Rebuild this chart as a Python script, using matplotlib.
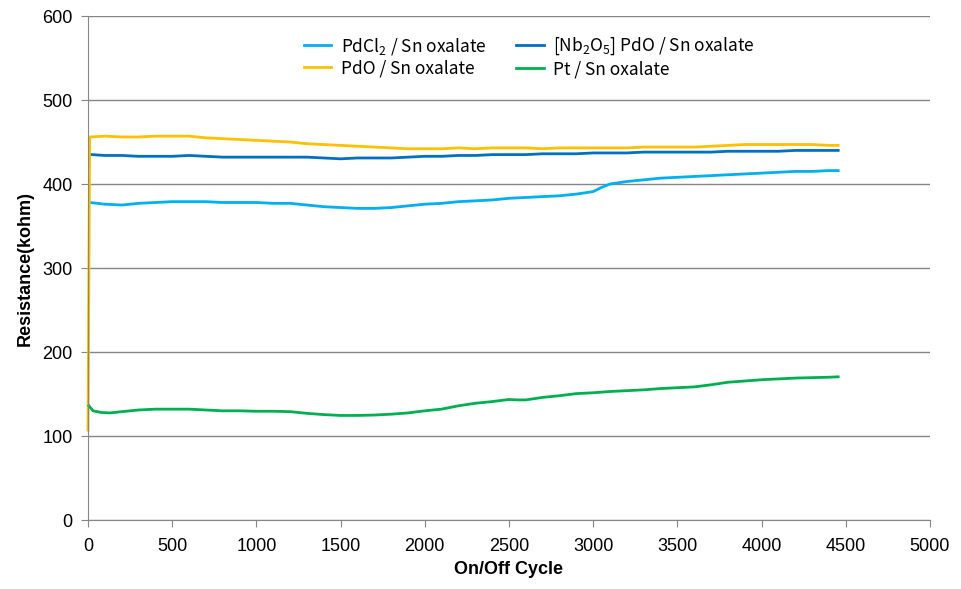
import numpy as np
import matplotlib
matplotlib.use('Agg')
import matplotlib.pyplot as plt

plt.rcParams['font.family'] = ['Liberation Sans', 'DejaVu Sans']
plt.rcParams['mathtext.default'] = 'regular'

# values
pdcl2_x = [10, 100, 200, 300, 400, 500, 600, 700, 800, 900, 1000, 1100, 1200, 1300, 1400, 1500,
           1600, 1700, 1800, 1900, 2000, 2100, 2200, 2300, 2400, 2500, 2600, 2700, 2800, 2900,
           3000, 3050, 3100, 3200, 3300, 3400, 3500, 3600, 3700, 3800, 3900, 4000, 4100, 4200,
           4300, 4400, 4455]
pdcl2_y = [378, 376, 375, 377, 378, 379, 379, 379, 378, 378, 378, 377, 377, 375, 373, 372,
           371, 371, 372, 374, 376, 377, 379, 380, 381, 383, 384, 385, 386, 388,
           391, 396, 400, 403, 405, 407, 408, 409, 410, 411, 412, 413, 414, 415,
           415, 416, 416]

pdo_x = [0, 10, 100, 200, 300, 400, 500, 600, 700, 800, 900, 1000, 1100, 1200, 1300, 1400, 1500,
         1600, 1700, 1800, 1900, 2000, 2100, 2200, 2300, 2400, 2500, 2600, 2700, 2800, 2900,
         3000, 3100, 3200, 3300, 3400, 3500, 3600, 3700, 3800, 3900, 4000, 4100, 4200, 4300,
         4400, 4455]
pdo_y = [107, 456, 457, 456, 456, 457, 457, 457, 455, 454, 453, 452, 451, 450, 448, 447, 446,
         445, 444, 443, 442, 442, 442, 443, 442, 443, 443, 443, 442, 443, 443,
         443, 443, 443, 444, 444, 444, 444, 445, 446, 447, 447, 447, 447, 447,
         446, 446]

nb_x = [25, 100, 200, 300, 400, 500, 600, 700, 800, 900, 1000, 1100, 1200, 1300, 1400, 1500,
        1600, 1700, 1800, 1900, 2000, 2100, 2200, 2300, 2400, 2500, 2600, 2700, 2800, 2900,
        3000, 3100, 3200, 3300, 3400, 3500, 3600, 3700, 3800, 3900, 4000, 4100, 4200, 4300,
        4400, 4455]
nb_y = [435, 434, 434, 433, 433, 433, 434, 433, 432, 432, 432, 432, 432, 432, 431, 430,
        431, 431, 431, 432, 433, 433, 434, 434, 435, 435, 435, 436, 436, 436,
        437, 437, 437, 438, 438, 438, 438, 438, 439, 439, 439, 439, 440, 440,
        440, 440]

pt_x = [5, 30, 80, 130, 200, 300, 400, 500, 600, 700, 800, 900, 1000, 1100, 1200, 1300, 1400,
        1500, 1600, 1700, 1800, 1900, 2000, 2100, 2200, 2300, 2400, 2500, 2550, 2600, 2700,
        2800, 2900, 3000, 3100, 3200, 3300, 3400, 3500, 3600, 3700, 3800, 3900, 4000, 4100,
        4200, 4300, 4400, 4455]
pt_y = [136, 130, 128, 127.5, 129, 131, 132, 132, 132, 131, 130, 130, 129.5, 129.5, 129, 127,
        125.5, 124.5, 124.5, 125, 126, 127.5, 130, 132, 136, 139, 141, 143.5, 143, 143, 146,
        148, 150.5, 151.5, 153, 154, 155, 156.5, 157.5, 158.5, 161, 164, 165.5, 167, 168,
        169, 169.5, 170, 170.5]

fig = plt.figure(figsize=(9.62, 5.89), dpi=100)
ax = fig.add_axes([0.0915, 0.1171, 0.8752, 0.8557])

lw = 2.0
ax.plot(pdcl2_x, pdcl2_y, color='#00B0F0', lw=lw, label=r'PdCl$_2$ / Sn oxalate', clip_on=False)
ax.plot(pdo_x, pdo_y, color='#FFC000', lw=lw, label='PdO / Sn oxalate', clip_on=False)
ax.plot(nb_x, nb_y, color='#0070C0', lw=lw, label=r'[Nb$_2$O$_5$] PdO / Sn oxalate', clip_on=False)
ax.plot(pt_x, pt_y, color='#00B050', lw=lw, label='Pt / Sn oxalate', clip_on=False)

ax.set_xlim(0, 5000)
ax.set_ylim(0, 600)
ax.set_xticks(np.arange(0, 5001, 500))
ax.set_yticks(np.arange(0, 601, 100))
ax.yaxis.grid(True, color='#868686', lw=1)
ax.set_axisbelow(True)

for s in ['top', 'right']:
    ax.spines[s].set_visible(False)
for s in ['left', 'bottom']:
    ax.spines[s].set_color('#868686')
ax.tick_params(colors='#868686', length=5, labelsize=13, labelcolor='black')
ax.tick_params(axis='x', pad=8)
ax.tick_params(axis='y', pad=6)

ax.set_xlabel('On/Off Cycle', fontsize=13, fontweight='bold', labelpad=4)
ax.set_ylabel('Resistance(kohm)', fontsize=13, fontweight='bold', labelpad=6)

ax.legend(ncol=2, loc='upper left', bbox_to_anchor=(0.2375, 0.992), frameon=False,
          prop={'family': ['Noto Sans CJK KR', 'DejaVu Sans'], 'size': 12.5},
          handlelength=1.6, handletextpad=0.55, columnspacing=1.7, labelspacing=0.15)

fig.savefig('out.png', dpi=100)
